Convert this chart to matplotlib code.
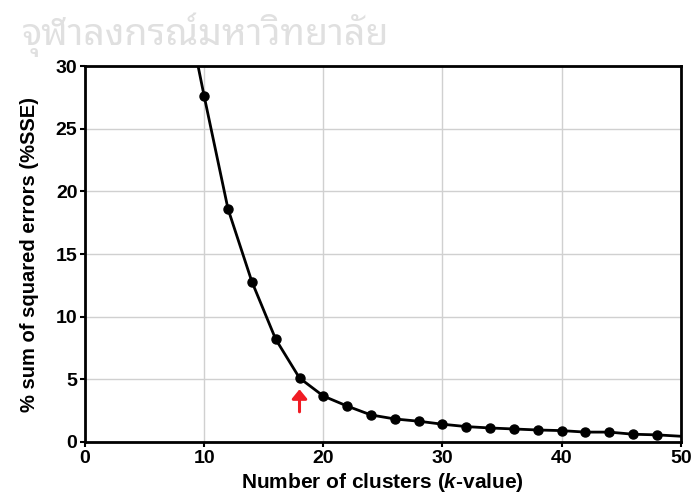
import numpy as np
import matplotlib
matplotlib.use("Agg")
import matplotlib.pyplot as plt

plt.rcParams['font.family'] = ['Liberation Sans', 'DejaVu Sans']
plt.rcParams['font.weight'] = 'bold'
plt.rcParams['mathtext.fontset'] = 'custom'
plt.rcParams['mathtext.it'] = 'Liberation Sans:italic:bold'
plt.rcParams['mathtext.rm'] = 'Liberation Sans:bold'

# ค่า %SSE ตามจำนวนคลัสเตอร์
k_values = [8, 10, 12, 14, 16, 18, 20, 22, 24, 26, 28, 30, 32, 34, 36, 38, 40,
            42, 44, 46, 48, 50]
sse_values = [37.0, 27.6, 18.6, 12.8, 8.2, 5.1, 3.66, 2.86, 2.15, 1.83, 1.65,
              1.41, 1.22, 1.11, 1.03, 0.95, 0.90, 0.78, 0.78, 0.61, 0.56, 0.45]
marker_k = k_values[1:-1]
marker_sse = sse_values[1:-1]
elbow_k = 18
x_ticks = [0, 10, 20, 30, 40, 50]
y_ticks = [0, 5, 10, 15, 20, 25, 30]

fig = plt.figure(figsize=(6.94, 5.01), dpi=100)
ax = fig.add_axes([0.1225, 0.118, 0.8585, 0.750])

ax.plot(k_values, sse_values, color='black', lw=2, zorder=3)
ax.plot(marker_k, marker_sse, 'o', color='black', ms=6.5, zorder=4)

# ลูกศรชี้จุด elbow
ax.annotate('', xy=(elbow_k, 4.2), xytext=(elbow_k, 2.4),
            arrowprops=dict(arrowstyle='-|>,head_width=0.45,head_length=0.55',
                            color='#f01c24', lw=2.2, shrinkA=0, shrinkB=0))

ax.set_xlim(0, 50)
ax.set_ylim(0, 30)
ax.set_xticks(x_ticks)
ax.set_yticks(y_ticks)
ax.grid(True, color='#d0d0d0', lw=1)
ax.set_axisbelow(True)
for s in ax.spines.values():
    s.set_linewidth(2)
ax.tick_params(direction='out', length=3.5, width=1.5, labelsize=14, pad=2)
for lab in ax.get_xticklabels() + ax.get_yticklabels():
    lab.set_fontweight('bold')

ax.set_xlabel(r'Number of clusters ($\mathit{k}$-value)', fontsize=15,
              fontweight='bold', labelpad=3)
ax.set_ylabel('% sum of squared errors (%SSE)', fontsize=14.5,
              fontweight='bold', labelpad=12)

# ลายน้ำ
fig.text(0.296, 0.93, 'จุฬาลงกรณ์มหาวิทยาลัย', fontsize=27, color='#e0e0e0',
         ha='center', va='center', zorder=0, fontweight='bold',
         family=['Noto Sans Thai Looped', 'Loma', 'DejaVu Sans'])

fig.savefig('out.png', dpi=100)
